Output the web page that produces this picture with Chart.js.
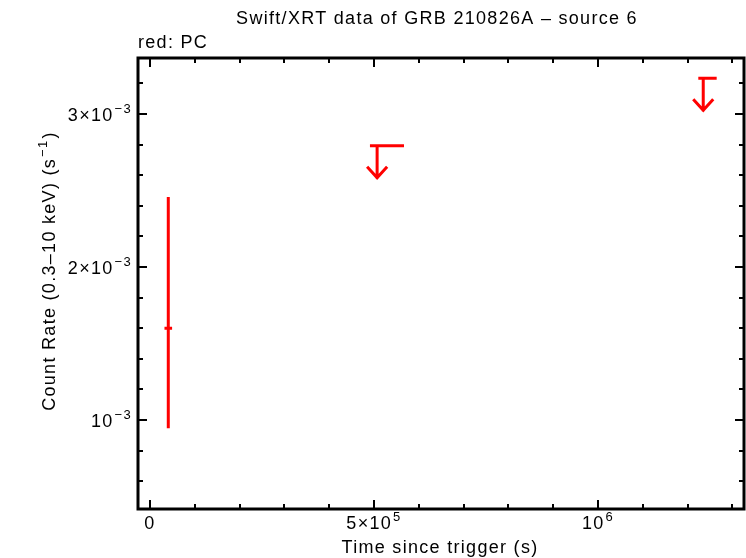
<!DOCTYPE html>
<html>
<head>
<meta charset="utf-8">
<script src="https://cdn.jsdelivr.net/npm/chart.js@4/dist/chart.umd.min.js"></script>
<style>
  html, body { margin: 0; padding: 0; background: #fff; }
  #wrap { width: 746px; height: 558px; }
</style>
</head>
<body>
<div id="wrap"><canvas id="lc" width="746" height="558"></canvas></div>
<script>
// detections (PC mode)
const detT = [40800];
const detTLo = [32300];
const detTHi = [49300];
const detRate = [1.60e-3];
const detRateLo = [0.946e-3];
const detRateHi = [2.457e-3];

// upper limits (PC mode)
const ulT = [507000, 1235000];
const ulTLo = [491000, 1224000];
const ulTHi = [567000, 1265000];
const ulRate = [2.793e-3, 3.233e-3];

// axes
const xMajor = [0, 5e5, 1e6];
const xLabels = [['0', ''], ['5\u00d710', '5'], ['10', '6']];
const yMajor = [1e-3, 2e-3, 3e-3];
const yLabels = [['10', '\u22123'], ['2\u00d710', '\u22123'], ['3\u00d710', '\u22123']];

const FONT = '"Liberation Sans", Arial, sans-serif';
const RED = '#ff0000';
const SIZE = 18;
const SPACING = '1.3px';

function supText(ctx, base, exp, x, y, align, size) {
  ctx.letterSpacing = SPACING;
  ctx.font = size + 'px ' + FONT;
  const wb = ctx.measureText(base).width;
  ctx.font = Math.round(size * 0.7) + 'px ' + FONT;
  const we = exp ? ctx.measureText(exp).width + 1 : 0;
  const w = wb + we;
  let x0 = x;
  if (align === 'center') x0 = x - w / 2;
  else if (align === 'right') x0 = x - w;
  ctx.textAlign = 'left';
  ctx.textBaseline = 'alphabetic';
  ctx.font = size + 'px ' + FONT;
  ctx.fillText(base, x0, y);
  if (exp) {
    ctx.font = Math.round(size * 0.7) + 'px ' + FONT;
    ctx.fillText(exp, x0 + wb + 1, y - size * 0.42);
  }
}

const framePlugin = {
  id: 'frame',
  afterDraw(chart) {
    const ctx = chart.ctx;
    const a = chart.chartArea;
    const xs = chart.scales.x, ys = chart.scales.y;
    ctx.save();
    ctx.fillStyle = '#000';
    ctx.strokeStyle = '#000';

    // ticks
    ctx.lineWidth = 2;
    ctx.beginPath();
    for (let v = 0; v <= 1.3e6 + 1; v += 1e5) {
      const px = Math.round(xs.getPixelForValue(v));
      const len = (v % 5e5 === 0) ? 9 : 5;
      ctx.moveTo(px, a.bottom); ctx.lineTo(px, a.bottom - len);
      ctx.moveTo(px, a.top); ctx.lineTo(px, a.top + len);
    }
    for (let i = 3; i <= 16; i++) {
      const v = i * 2e-4;
      const py = Math.round(ys.getPixelForValue(v));
      const len = (i % 5 === 0) ? 9 : 5;
      ctx.moveTo(a.left, py); ctx.lineTo(a.left + len, py);
      ctx.moveTo(a.right, py); ctx.lineTo(a.right - len, py);
    }
    ctx.stroke();

    // frame
    ctx.lineWidth = 3;
    ctx.strokeRect(a.left, a.top, a.right - a.left, a.bottom - a.top);

    // tick labels
    xMajor.forEach((v, i) => {
      supText(ctx, xLabels[i][0], xLabels[i][1], xs.getPixelForValue(v), a.bottom + 20, 'center', SIZE);
    });
    yMajor.forEach((v, i) => {
      supText(ctx, yLabels[i][0], yLabels[i][1], a.left - 6, ys.getPixelForValue(v) + 7, 'right', SIZE);
    });

    // titles
    ctx.letterSpacing = SPACING;
    ctx.font = SIZE + 'px ' + FONT;
    ctx.textAlign = 'center';
    ctx.textBaseline = 'alphabetic';
    ctx.fillText('Swift/XRT data of GRB 210826A \u2013 source 6', 437, 24);
    ctx.fillText('Time since trigger (s)', 440, 553);
    ctx.textAlign = 'left';
    ctx.fillText('red: PC', 138, 48);

    ctx.translate(55, 271);
    ctx.rotate(-Math.PI / 2);
    const yt = 'Count Rate (0.3\u201310 keV) (s';
    const w1 = ctx.measureText(yt).width;
    ctx.font = '13px ' + FONT;
    const w2 = ctx.measureText('\u22121').width;
    ctx.font = SIZE + 'px ' + FONT;
    const w3 = ctx.measureText(')').width;
    const tot = w1 + w2 + w3 + 2;
    const x0 = -tot / 2;
    ctx.fillText(yt, x0, 0);
    ctx.font = '13px ' + FONT;
    ctx.fillText('\u22121', x0 + w1 + 1, -8);
    ctx.font = SIZE + 'px ' + FONT;
    ctx.fillText(')', x0 + w1 + w2 + 2, 0);
    ctx.restore();
  }
};

const errPlugin = {
  id: 'errs',
  afterDatasetsDraw(chart) {
    const ctx = chart.ctx;
    const xs = chart.scales.x, ys = chart.scales.y;
    ctx.save();
    ctx.strokeStyle = RED;
    ctx.lineWidth = 3;
    ctx.lineCap = 'butt';
    ctx.beginPath();
    detT.forEach((t, i) => {
      const px = xs.getPixelForValue(t), py = ys.getPixelForValue(detRate[i]);
      ctx.moveTo(px, ys.getPixelForValue(detRateLo[i]));
      ctx.lineTo(px, ys.getPixelForValue(detRateHi[i]));
      ctx.moveTo(xs.getPixelForValue(detTLo[i]), py);
      ctx.lineTo(xs.getPixelForValue(detTHi[i]), py);
    });
    ulT.forEach((t, i) => {
      const px = xs.getPixelForValue(t), py = ys.getPixelForValue(ulRate[i]);
      ctx.moveTo(xs.getPixelForValue(ulTLo[i]), py);
      ctx.lineTo(xs.getPixelForValue(ulTHi[i]), py);
      ctx.moveTo(px, py);
      ctx.lineTo(px, py + 33);
      ctx.moveTo(px - 10, py + 21);
      ctx.lineTo(px, py + 32);
      ctx.lineTo(px + 10, py + 21);
    });
    ctx.stroke();
    ctx.restore();
  }
};

new Chart(document.getElementById('lc'), {
  type: 'scatter',
  data: {
    datasets: [
      {
        label: 'PC',
        data: detT.map((t, i) => ({ x: t, y: detRate[i] })),
        pointRadius: 0,
        borderColor: RED,
        backgroundColor: RED
      },
      {
        label: 'PC upper limits',
        data: ulT.map((t, i) => ({ x: t, y: ulRate[i] })),
        pointRadius: 0,
        borderColor: RED,
        backgroundColor: RED
      }
    ]
  },
  options: {
    responsive: false,
    animation: false,
    layout: { padding: { left: 138, right: 2, top: 58, bottom: 49 } },
    plugins: { legend: { display: false }, tooltip: { enabled: false } },
    scales: {
      x: { type: 'linear', min: -26800, max: 1.326e6, display: false },
      y: { type: 'linear', min: 0.418e-3, max: 3.366e-3, display: false }
    }
  },
  plugins: [errPlugin, framePlugin]
});
</script>
</body>
</html>
